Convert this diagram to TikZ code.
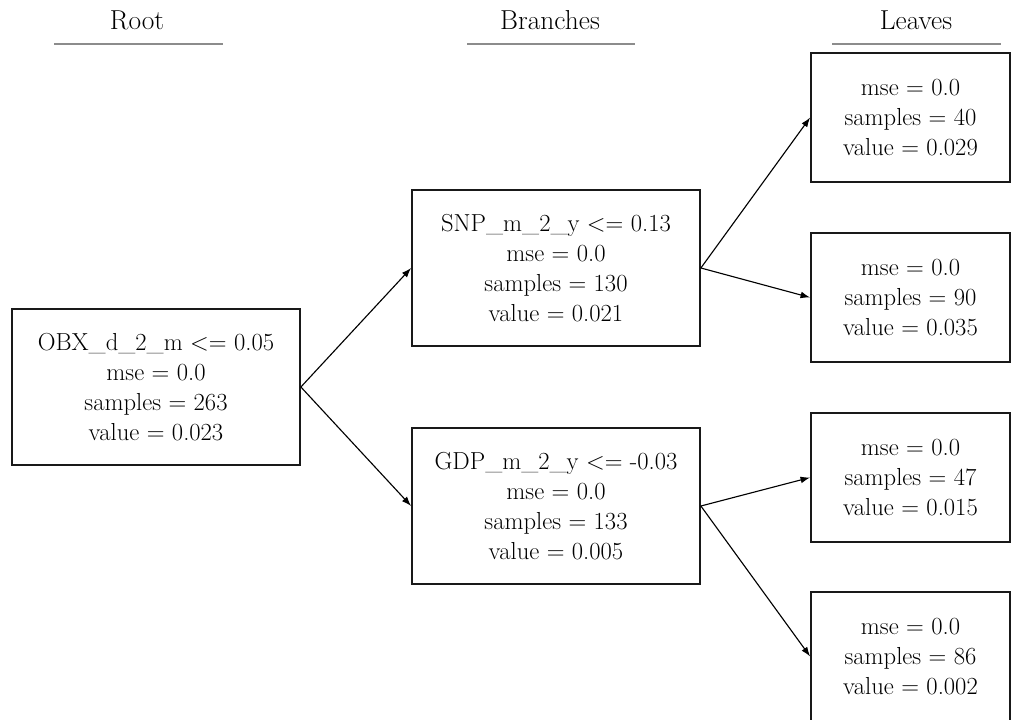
\documentclass[tikz,border=0pt]{standalone}
\usepackage{fontspec}
\usepackage{tikz}
\usetikzlibrary{arrows.meta,positioning}

\begin{document}
\begin{tikzpicture}[
    x=0.025cm, y=-0.025cm,
    flow/.style={-{Latex[length=2.4mm,width=1.7mm]}, line width=0.8pt, draw=black},
    split/.style={draw=black!90, line width=1.2pt, align=center, inner sep=0pt,
        minimum width=7.2cm, minimum height=3.9cm,
        font=\fontsize{17.5}{21.3}\selectfont},
    leaf/.style={split, minimum width=4.975cm, minimum height=3.225cm},
    header/.style={anchor=base, font=\fontsize{19.5}{23}\selectfont},
    rule/.style={draw=black!45, line width=1.2pt}
]
\useasboundingbox (0,0) rectangle (1024,720);
\clip (0,0) rectangle (1024,720);
% column titles
\node[header] (hroot) at (137,30) {Root};
\node[header] (hbranch) at (550,30) {Branches};
\node[header] (hleaf) at (916,30) {Leaves};
\draw[rule] (54,44) -- (223,44);
\draw[rule] (467,44) -- (635,44);
\draw[rule] (832,44) -- (1001,44);
% tree
\node[split] (root) at (156,387) {OBX\_d\_2\_m <= 0.05\\mse = 0.0\\samples = 263\\value = 0.023};
\node[split] (snp) at (556,268) {SNP\_m\_2\_y <= 0.13\\mse = 0.0\\samples = 130\\value = 0.021};
\node[split] (gdp) at (556,506) {GDP\_m\_2\_y <= -0.03\\mse = 0.0\\samples = 133\\value = 0.005};
\node[leaf] (leafa) at (910.5,117.5) {mse = 0.0\\samples = 40\\value = 0.029};
\node[leaf] (leafb) at (910.5,297.5) {mse = 0.0\\samples = 90\\value = 0.035};
\node[leaf] (leafc) at (910.5,477.5) {mse = 0.0\\samples = 47\\value = 0.015};
\node[leaf] (leafd) at (910.5,656.5) {mse = 0.0\\samples = 86\\value = 0.002};
\draw[flow] (root.east) -- (snp.west);
\draw[flow] (root.east) -- (gdp.west);
\draw[flow] (snp.east) -- (leafa.west);
\draw[flow] (snp.east) -- (leafb.west);
\draw[flow] (gdp.east) -- (leafc.west);
\draw[flow] (gdp.east) -- (leafd.west);
\end{tikzpicture}
\end{document}
